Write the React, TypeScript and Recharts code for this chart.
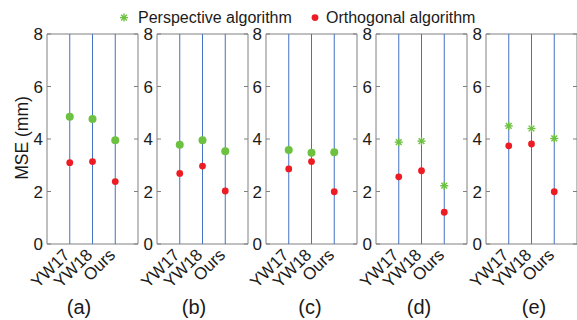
import { ScatterChart, Scatter, XAxis, YAxis, ReferenceLine, ReferenceArea } from "recharts";

const categories = ["YW17", "YW18", "Ours"];
const panelLabels = ["(a)", "(b)", "(c)", "(d)", "(e)"];
const yTicks = [0, 2, 4, 6, 8];

// MSE (mm) per panel, in category order
const perspA = [4.85, 4.76, 3.95];
const perspB = [3.78, 3.95, 3.53];
const perspC = [3.58, 3.48, 3.5];
const perspD = [3.88, 3.92, 2.22];
const perspE = [4.5, 4.4, 4.02];

const orthoA = [3.1, 3.14, 2.38];
const orthoB = [2.69, 2.97, 2.02];
const orthoC = [2.86, 3.14, 1.99];
const orthoD = [2.56, 2.79, 1.21];
const orthoE = [3.74, 3.81, 1.99];

const perspective = [perspA, perspB, perspC, perspD, perspE];
const orthogonal = [orthoA, orthoB, orthoC, orthoD, orthoE];
const starMarker = [false, false, false, true, true];

const GREEN = "#6cc140";
const RED = "#ed1c24";
const BLUE = "#4472c4";
const FRAME = "#808080";
const INK = "#1a1a1a";
const FONT = "'Liberation Sans', Arial, sans-serif";

const PANEL_X = [47, 157, 266, 376, 486];
const LABEL_X = [79, 194, 310, 419, 534];
const AXIS_W = 30;

function LeftTick({ x, y, payload }: any) {
  return (
    <g>
      <line x1={x} x2={x + 4} y1={y} y2={y} stroke={FRAME} />
      <text x={x - 4} y={y} dy="0.36em" textAnchor="end" fontSize={17} fill={INK} fontFamily={FONT}>
        {payload.value}
      </text>
    </g>
  );
}

function RightTick({ x, y }: any) {
  return <line x1={x - 4} x2={x} y1={y} y2={y} stroke={FRAME} />;
}

function BottomTick({ x, y, payload }: any) {
  return (
    <text
      x={x + 1}
      y={y + 12}
      textAnchor="end"
      fontSize={17}
      fill={INK}
      fontFamily={FONT}
      transform={`rotate(-45, ${x + 1}, ${y + 12})`}
    >
      {categories[payload.value - 1]}
    </text>
  );
}

const dot = (r: number, color: string) => (p: any) => <circle cx={p.cx} cy={p.cy} r={r} fill={color} />;

const star = (p: any) => {
  const s = 4;
  const d = s * 0.72;
  return (
    <g stroke={GREEN} strokeWidth={1.4}>
      <line x1={p.cx - s} x2={p.cx + s} y1={p.cy} y2={p.cy} />
      <line x1={p.cx} x2={p.cx} y1={p.cy - s} y2={p.cy + s} />
      <line x1={p.cx - d} x2={p.cx + d} y1={p.cy - d} y2={p.cy + d} />
      <line x1={p.cx - d} x2={p.cx + d} y1={p.cy + d} y2={p.cy - d} />
    </g>
  );
};

function Panel({ idx }: { idx: number }) {
  const pData = perspective[idx].map((v, i) => ({ x: i + 1, y: v }));
  const oData = orthogonal[idx].map((v, i) => ({ x: i + 1, y: v }));
  return (
    <div style={{ position: "absolute", left: PANEL_X[idx] - AXIS_W, top: 0 }}>
      <ScatterChart width={127} height={320} margin={{ top: 34, right: 0, bottom: 0, left: 0 }}>
        <XAxis
          type="number"
          dataKey="x"
          domain={[0, 4]}
          ticks={[1, 2, 3]}
          interval={0}
          height={76}
          axisLine={false}
          tickLine={false}
          tickSize={0}
          tickMargin={0}
          tick={<BottomTick />}
        />
        <YAxis
          yAxisId="l"
          type="number"
          dataKey="y"
          domain={[0, 8]}
          ticks={yTicks}
          interval={0}
          width={AXIS_W}
          axisLine={false}
          tickLine={false}
          tickSize={0}
          tickMargin={0}
          tick={<LeftTick />}
        />
        <YAxis
          yAxisId="r"
          orientation="right"
          type="number"
          dataKey="y"
          domain={[0, 8]}
          ticks={yTicks}
          interval={0}
          width={6}
          axisLine={false}
          tickLine={false}
          tickSize={0}
          tickMargin={0}
          tick={<RightTick />}
        />
        {categories.map((c, i) => (
          <ReferenceLine key={c} x={i + 1} yAxisId="l" stroke={BLUE} strokeWidth={1} />
        ))}
        <ReferenceArea x1={0} x2={4} y1={0} y2={8} yAxisId="l" fill="none" stroke={FRAME} strokeWidth={1} />
        <Scatter
          yAxisId="l"
          data={pData}
          shape={starMarker[idx] ? star : dot(4, GREEN)}
          isAnimationActive={false}
        />
        <Scatter yAxisId="r" data={oData} shape={dot(3.4, RED)} isAnimationActive={false} />
      </ScatterChart>
    </div>
  );
}

export default function App() {
  return (
    <div
      style={{
        position: "absolute",
        left: 0,
        top: 0,
        width: 577,
        height: 320,
        overflow: "hidden",
        background: "#fff",
        fontFamily: FONT,
      }}
    >
      {panelLabels.map((_, i) => (
        <Panel key={i} idx={i} />
      ))}
      <svg width={577} height={320} style={{ position: "absolute", left: 0, top: 0, pointerEvents: "none" }}>
        {/* legend */}
        <g transform="translate(124, 17.6)">{star({ cx: 0, cy: 0 })}</g>
        <text x={138} y={23} fontSize={16} fill={INK} fontFamily={FONT}>
          Perspective algorithm
        </text>
        <circle cx={315} cy={17.6} r={3.4} fill={RED} />
        <text x={326} y={23} fontSize={16} fill={INK} fontFamily={FONT}>
          Orthogonal algorithm
        </text>
        {/* y label */}
        <text
          x={28}
          y={138}
          fontSize={17.5}
          fill={INK}
          fontFamily={FONT}
          textAnchor="middle"
          transform="rotate(-90, 28, 138)"
        >
          MSE (mm)
        </text>
        {panelLabels.map((l, i) => (
          <text key={l} x={LABEL_X[i]} y={314} fontSize={20} fill={INK} fontFamily={FONT} textAnchor="middle">
            {l}
          </text>
        ))}
      </svg>
    </div>
  );
}
